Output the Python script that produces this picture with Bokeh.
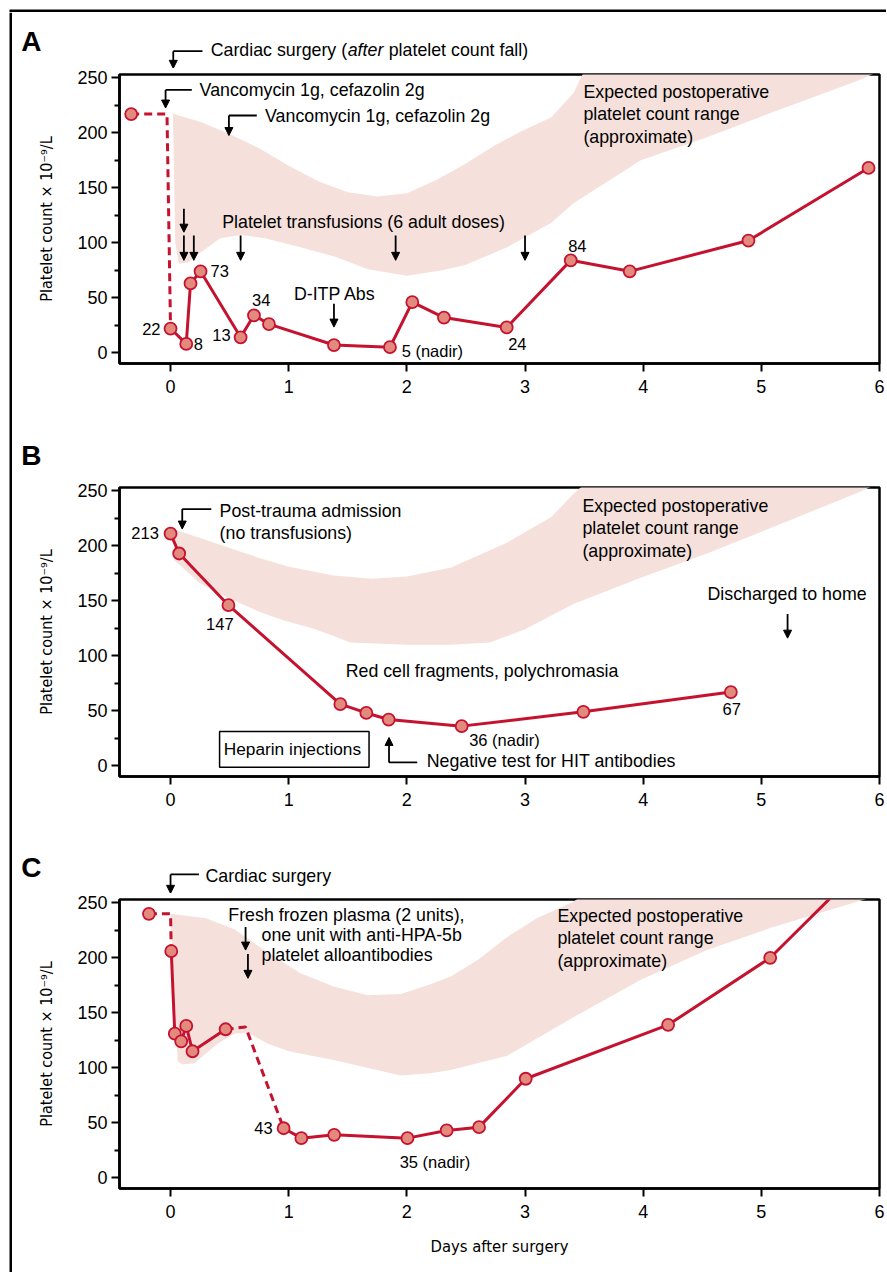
from bokeh.plotting import figure
from bokeh.models import Range1d, FixedTicker, Label, Arrow, NormalHead, BoxAnnotation
from bokeh.layouts import column, row
from bokeh.embed import file_html
from bokeh.resources import INLINE

# ---------------- data ----------------
# Panel A
a_day = [0.0, 0.133, 0.169, 0.254, 0.593, 0.706, 0.833, 1.383, 1.857, 2.046, 2.314, 2.845, 3.387, 3.886, 4.891, 5.907]
a_plt = [22, 8, 63, 74, 14, 34, 26, 7, 5, 46, 32, 23, 84, 74, 102, 168]
a_pre_day = [-0.333]
a_pre_plt = [217]
a_dash_day = [-0.333, -0.03, 0.0]
a_dash_plt = [217, 217, 22]
a_band_up_day = [0.0, 0.25, 0.5, 0.75, 1.0, 1.25, 1.5, 1.75, 2.0, 2.25, 2.5, 2.75, 3.0, 3.22, 3.41, 3.5, 3.8, 6.0]
a_band_up_plt = [218, 210, 199, 186, 170, 156, 146, 142, 145, 157, 172, 189, 203, 214, 236, 256, 290, 300]
a_band_lo_day = [0.02, 0.04, 0.07, 0.15, 0.25, 0.42, 0.6, 0.8, 1.1, 1.4, 1.67, 2.0, 2.3, 2.5, 2.85, 3.22, 3.41, 3.98, 4.54, 5.1, 5.81, 6.0]
a_band_lo_plt = [217, 100, 81, 82, 91, 104, 107, 104, 96, 87, 76, 70, 75, 80, 96, 118, 136, 175, 196, 219, 247, 256]

# Panel B
b_day = [0.0, 0.073, 0.49, 1.437, 1.657, 1.846, 2.464, 3.494, 4.742]
b_plt = [211, 193, 146, 56, 48, 42, 36, 49, 67]
b_band_up_day = [0.03, 0.25, 0.5, 0.75, 1.0, 1.38, 1.7, 2.0, 2.37, 2.85, 3.22, 3.41, 3.5, 3.8, 6.0]
b_band_up_plt = [215, 207, 198, 189, 181, 173, 170, 172, 180, 203, 226, 247, 256, 290, 300]
b_band_lo_day = [0.03, 0.25, 0.48, 0.75, 0.96, 1.2, 1.38, 1.52, 2.0, 2.37, 2.7, 3.0, 3.41, 3.98, 4.54, 5.1, 5.81, 6.0]
b_band_lo_plt = [187, 166, 153, 140, 132, 125, 118, 112, 110, 110, 112, 124, 147, 171, 193, 217, 248, 257]

# Panel C
c_day = [0.006, 0.036, 0.09, 0.133, 0.186, 0.466]
c_plt = [206, 131, 124, 138, 115, 135]
c2_day = [0.957, 1.107, 1.385, 2.005, 2.337, 2.611, 3.006, 4.211, 5.075, 5.9]
c2_plt = [45, 36, 39, 36, 43, 46, 90, 139, 200, 288]
c_pre_day = [-0.183]
c_pre_plt = [240]
c_dash1_day = [-0.183, 0.0, 0.006]
c_dash1_plt = [240, 240, 206]
c_dash2_day = [0.466, 0.635, 0.957]
c_dash2_plt = [135, 137, 45]
c_band_up_day = [0.0, 0.3, 0.54, 0.82, 1.1, 1.38, 1.67, 1.95, 2.2, 2.37, 2.6, 2.85, 3.1, 3.41, 3.5, 3.8, 6.0]
c_band_up_plt = [240, 236, 226, 205, 186, 174, 166, 167, 176, 183, 198, 219, 236, 251, 258, 290, 300]
c_band_lo_day = [0.0, 0.06, 0.1, 0.2, 0.3, 0.4, 0.54, 0.65, 0.82, 1.0, 1.38, 1.7, 1.95, 2.2, 2.37, 2.85, 3.41, 3.98, 4.54, 5.1, 5.81, 6.0]
c_band_lo_plt = [240, 106, 103, 104, 113, 122, 131, 132, 122, 115, 107, 99, 93, 95, 98, 111, 146, 180, 207, 228, 251, 257]

y_ticks = [0, 50, 100, 150, 200, 250]
y_minor = [25, 75, 125, 175, 225]
x_ticks = [0, 1, 2, 3, 4, 5, 6]

# ---------------- styles ----------------
RED = "#C4122F"
MFILL = "#E38A7E"
BAND = "#F5E0DB"
FONT = "Liberation Sans"
NARROW = "DejaVu Sans Condensed"
ANN = "17.8px"
PTS = "16.5px"

X0, X1 = -0.432, 6.0
Y0, Y1 = -9.8, 253.0
FRAME_W, FRAME_H = 760, 289
SY = FRAME_H / (Y1 - Y0)
LEFT, RIGHT = 107, 7
FIG_W = LEFT + FRAME_W + RIGHT
GAP = 6      # top border of each main figure
HEAD_H = 56  # height of the strip above each panel


def make_fig(bottom, xlabel=None):
    p = figure(width=FIG_W, height=GAP + FRAME_H + bottom, x_range=Range1d(X0, X1),
               y_range=Range1d(Y0, Y1), output_backend="svg",
               toolbar_location=None, min_border_left=LEFT, min_border_right=RIGHT,
               min_border_top=GAP, min_border_bottom=bottom)
    p.xgrid.visible = False
    p.ygrid.visible = False
    p.outline_line_color = "black"
    p.outline_line_width = 2.5
    p.outline_line_alpha = 1.0
    p.background_fill_color = "white"
    p.border_fill_color = "white"
    for ax in (p.xaxis[0], p.yaxis[0]):
        ax.axis_line_width = 2.5
        ax.axis_line_color = "black"
        ax.major_tick_line_width = 2
        ax.major_tick_line_color = "black"
        ax.major_tick_in = 0
        ax.major_tick_out = 8
        ax.major_label_text_font = FONT
        ax.major_label_text_font_size = "18px"
        ax.major_label_text_color = "black"
    p.yaxis.ticker = FixedTicker(ticks=y_ticks, minor_ticks=y_minor)
    p.yaxis.minor_tick_in = 0
    p.yaxis.minor_tick_out = 5
    p.yaxis.minor_tick_line_width = 2
    p.yaxis.minor_tick_line_color = "black"
    p.yaxis.major_label_standoff = 4
    p.yaxis.axis_label = "Platelet count \u00d7 10\u207b\u2079/L"
    p.yaxis.axis_label_text_font = NARROW
    p.yaxis.axis_label_text_font_size = "16px"
    p.yaxis.axis_label_text_font_style = "normal"
    p.yaxis.axis_label_text_color = "black"
    p.yaxis.axis_label_standoff = 18
    p.xaxis.ticker = FixedTicker(ticks=x_ticks, minor_ticks=[])
    p.xaxis.major_label_standoff = 8
    if xlabel:
        p.xaxis.axis_label = xlabel
        p.xaxis.axis_label_text_font = NARROW
        p.xaxis.axis_label_text_font_size = "16.5px"
        p.xaxis.axis_label_text_font_style = "normal"
        p.xaxis.axis_label_text_color = "black"
        p.xaxis.axis_label_standoff = 16
    return p


def make_header(letter, letter_y):
    # strip above a panel, sharing the panel's scales, for the texts above the frame
    ya = Y1 + GAP / SY
    yb = ya + HEAD_H / SY
    h = figure(width=FIG_W, height=HEAD_H, x_range=Range1d(X0, X1), y_range=Range1d(ya, yb),
               output_backend="svg", toolbar_location=None,
               min_border_left=LEFT, min_border_right=RIGHT, min_border_top=0, min_border_bottom=0,
               x_axis_type=None)
    h.xgrid.visible = False
    h.ygrid.visible = False
    h.outline_line_color = None
    h.background_fill_color = "white"
    h.border_fill_color = "white"
    ax = h.yaxis[0]
    ax.ticker = FixedTicker(ticks=[letter_y], minor_ticks=[])
    ax.major_label_overrides = {letter_y: letter}
    ax.axis_line_color = None
    ax.major_tick_line_color = None
    ax.minor_tick_line_color = None
    ax.major_label_text_font = FONT
    ax.major_label_text_font_size = "28px"
    ax.major_label_text_font_style = "bold"
    ax.major_label_text_color = "black"
    ax.major_label_standoff = 72
    return h


def bar(w, h, x_frac, y_frac):
    # white canvas with a black bar covering the given fractions (border of the figure box)
    s = figure(width=w, height=h, x_range=Range1d(0, 1), y_range=Range1d(0, 1),
               output_backend="svg", toolbar_location=None, min_border=0,
               x_axis_type=None, y_axis_type=None)
    s.outline_line_color = None
    s.background_fill_color = "white"
    s.border_fill_color = "white"
    s.xgrid.visible = False
    s.ygrid.visible = False
    s.quad(left=[x_frac[0]], right=[x_frac[1]], bottom=[y_frac[0]], top=[y_frac[1]],
           fill_color="black", line_color=None)
    return s


def band(p, xu, yu, xl, yl):
    xs = list(xu) + list(reversed(xl))
    ys = list(yu) + list(reversed(yl))
    p.patch(xs, ys, fill_color=BAND, line_color=None)


def series(p, x, y):
    p.line(x, y, line_color=RED, line_width=3, line_join="round")


def dashed(p, x, y):
    p.line(x, y, line_color=RED, line_width=3, line_dash="8 5")


def markers(p, x, y):
    p.scatter(x, y, size=12, fill_color=MFILL, line_color=RED, line_width=1.8)


def txt(p, x, y, s, size=ANN, align="left", style="normal", xo=0):
    p.add_layout(Label(x=x, y=y, text=s, text_font=FONT, text_font_size=size,
                       text_align=align, text_baseline="middle", text_color="black",
                       text_font_style=style, x_offset=xo))


def arrow(p, x0, y0, x1, y1):
    p.add_layout(Arrow(x_start=x0, y_start=y0, x_end=x1, y_end=y1,
                       end=NormalHead(size=8, fill_color="black", line_color="black", line_width=1),
                       line_color="black", line_width=1.8))


def seg(p, x0, y0, x1, y1):
    p.add_layout(Arrow(x_start=x0, y_start=y0, x_end=x1, y_end=y1, end=None,
                       line_color="black", line_width=1.8))


def elbow_down(p, x, y_top, y_tip, x_right):
    seg(p, x, y_top, x_right, y_top)
    arrow(p, x, y_top, x, y_tip)


def expected(p, x, ys):
    for s, y in zip(["Expected postoperative", "platelet count range", "(approximate)"], ys):
        txt(p, x, y, s)


# ---------------- Panel A ----------------
ha = make_header("A", 283)
elbow_down(ha, 0.023, 274.2, 258.6, 0.27)
txt(ha, 0.34, 275.5, "Cardiac surgery (")
txt(ha, 0.34, 275.5, "after", style="italic", xo=137)
txt(ha, 0.34, 275.5, "platelet count fall)", xo=178)

pa = make_fig(62)
band(pa, a_band_up_day, a_band_up_plt, a_band_lo_day, a_band_lo_plt)
dashed(pa, a_dash_day, a_dash_plt)
series(pa, a_day, a_plt)
markers(pa, a_pre_day, a_pre_plt)
markers(pa, a_day, a_plt)
elbow_down(pa, -0.042, 239, 222.5, 0.18)
txt(pa, 0.246, 239, "Vancomycin 1g, cefazolin 2g")
elbow_down(pa, 0.494, 215.7, 197.5, 0.73)
txt(pa, 0.80, 215.7, "Vancomycin 1g, cefazolin 2g")
txt(pa, 0.437, 118.7, "Platelet transfusions (6 adult doses)")
arrow(pa, 0.113, 131, 0.113, 109.6)
for xx in (0.113, 0.197, 0.593, 1.905, 3.0):
    arrow(pa, xx, 106.6, xx, 84)
txt(pa, 1.044, 53.6, "D-ITP Abs")
arrow(pa, 1.383, 44.5, 1.383, 23.3)
txt(pa, -0.085, 21.8, "22", size=PTS, align="right")
txt(pa, 0.197, 8.2, "8", size=PTS)
txt(pa, 0.339, 74.2, "73", size=PTS)
txt(pa, 0.508, 15.7, "13", size=PTS, align="right")
txt(pa, 0.768, 48.2, "34", size=PTS, align="center")
txt(pa, 1.956, 2, "5 (nadir)", size=PTS)
txt(pa, 2.935, 8.2, "24", size=PTS, align="center")
txt(pa, 3.443, 96.9, "84", size=PTS, align="center")
expected(pa, 3.494, [237, 217, 196.6])

# ---------------- Panel B ----------------
hb = make_header("B", 282)

pb = make_fig(61)
band(pb, b_band_up_day, b_band_up_plt, b_band_lo_day, b_band_lo_plt)
series(pb, b_day, b_plt)
markers(pb, b_day, b_plt)
elbow_down(pb, 0.099, 233.4, 215.2, 0.345)
txt(pb, 0.415, 231.8, "Post-trauma admission")
txt(pb, 0.415, 212, "(no transfusions)")
txt(pb, -0.099, 212, "213", size=PTS, align="right")
txt(pb, 0.417, 128.8, "147", size=PTS, align="center")
txt(pb, 2.527, 23.4, "36 (nadir)", size=PTS)
txt(pb, 4.75, 51.5, "67", size=PTS, align="center")
pb.add_layout(BoxAnnotation(left=0.415, right=1.68, bottom=-1.5, top=31.2,
                            fill_alpha=0, line_color="black", line_width=1.5, line_alpha=1))
txt(pb, 0.45, 15.2, "Heparin injections", size="17.3px")
seg(pb, 1.849, 3, 2.088, 3)
arrow(pb, 1.849, 3, 1.849, 25.7)
txt(pb, 2.168, 4.5, "Negative test for HIT antibodies")
txt(pb, 1.482, 85.8, "Red cell fragments, polychromasia")
expected(pb, 3.486, [236.4, 216, 195.5])
txt(pb, 4.544, 156, "Discharged to home")
arrow(pb, 5.222, 138, 5.222, 116)

# ---------------- Panel C ----------------
hc = make_header("C", 282)
elbow_down(hc, 0.0, 275.8, 258.6, 0.24)
txt(hc, 0.296, 274.3, "Cardiac surgery")

pc = make_fig(84, xlabel="Days after surgery")
band(pc, c_band_up_day, c_band_up_plt, c_band_lo_day, c_band_lo_plt)
dashed(pc, c_dash1_day, c_dash1_plt)
dashed(pc, c_dash2_day, c_dash2_plt)
series(pc, c_day, c_plt)
series(pc, c2_day, c2_plt)
markers(pc, c_pre_day, c_pre_plt)
markers(pc, c_day, c_plt)
markers(pc, c2_day, c2_plt)
txt(pc, 0.489, 238.8, "Fresh frozen plasma (2 units),")
txt(pc, 0.77, 220.6, "one unit with anti-HPA-5b")
txt(pc, 0.77, 202.5, "platelet alloantibodies")
arrow(pc, 0.635, 228, 0.635, 207)
arrow(pc, 0.655, 203.4, 0.655, 181.3)
txt(pc, 0.864, 44.9, "43", size=PTS, align="right")
txt(pc, 1.939, 14.5, "35 (nadir)", size=PTS)
expected(pc, 3.274, [238, 217.6, 197.3])

panels = column(ha, pa, hb, pb, hc, pc, spacing=0)
total_h = 3 * HEAD_H + (GAP + FRAME_H + 62) + (GAP + FRAME_H + 61) + (GAP + FRAME_H + 84)
# top edge of the outer box: 12 px tall canvas, black in its lowest 3 px (page y 9..12)
top_bar = bar(FIG_W + 12, 12, (9 / (FIG_W + 12), 1.0), (0.0, 0.25))
# left edge of the outer box: 12 px wide canvas, black in x 9..12
left_bar = bar(12, total_h, (0.75, 1.0), (0.0, 1.0))
layout = column(top_bar, row(left_bar, panels, spacing=0), spacing=0)

open("out.html", "w").write(file_html(layout, INLINE))
